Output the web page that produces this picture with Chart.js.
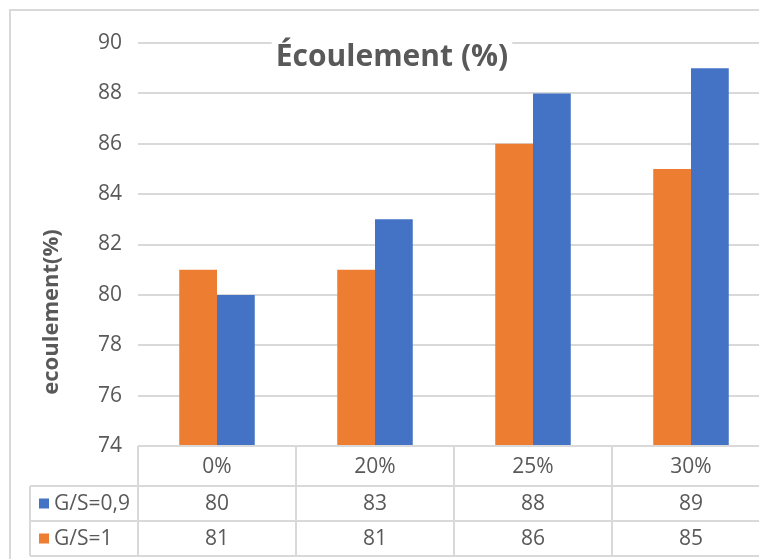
<!DOCTYPE html>
<html>
<head>
<meta charset="utf-8">
<script src="https://cdn.jsdelivr.net/npm/chart.js@4/dist/chart.umd.min.js"></script>
<style>
  html, body { margin: 0; padding: 0; background: #fff; overflow: hidden; }
  #wrap { width: 759px; height: 559px; overflow: hidden; }
</style>
</head>
<body>
<div id="wrap"><canvas id="chart" width="780" height="559"></canvas></div>
<script>
const CATEGORIES = ['0%', '20%', '25%', '30%'];
const SERIES_NAMES = ['G/S=0,9', 'G/S=1'];
const GS_09 = [80, 83, 88, 89];
const GS_1 = [81, 81, 86, 85];
const Y_MIN = 74;
const Y_MAX = 90;
const Y_STEP = 2;

const TITLE = 'Écoulement (%)';
const Y_TITLE = 'ecoulement(%)';

const BLUE = '#4472C4';
const ORANGE = '#ED7D31';
const TEXT = '#595959';
const LINE = '#d9d9d9';
const FONT = '"Open Sans", "Noto Sans", sans-serif';

// light frame around the whole chart, as in the Excel export
const framePlugin = {
  id: 'frame',
  beforeDraw(chart) {
    const ctx = chart.ctx;
    ctx.save();
    ctx.fillStyle = '#fff';
    ctx.fillRect(0, 0, chart.width, chart.height);
    ctx.strokeStyle = LINE;
    ctx.lineWidth = 2;
    ctx.strokeRect(10, 10, chart.width + 20, chart.height + 20);
    ctx.restore();
  },
};

// titles sit over the plot, with a white box behind the main one
const titlesPlugin = {
  id: 'titles',
  afterDraw(chart) {
    const ctx = chart.ctx;
    ctx.save();
    ctx.font = 'bold 30px ' + FONT;
    const w = ctx.measureText(TITLE).width;
    const cx = 392;
    ctx.fillStyle = '#fff';
    ctx.fillRect(cx - w / 2 - 4, 32, w + 8, 44);
    ctx.fillStyle = TEXT;
    ctx.textAlign = 'center';
    ctx.textBaseline = 'alphabetic';
    ctx.fillText(TITLE, cx, 66);

    ctx.translate(52, 312);
    ctx.rotate(-Math.PI / 2);
    ctx.font = 'bold 22px ' + FONT;
    ctx.textBaseline = 'middle';
    ctx.fillText(Y_TITLE, 0, 0);
    ctx.restore();
  },
};

// data table under the plot, columns taken from the x scale
const tablePlugin = {
  id: 'dataTable',
  afterDraw(chart) {
    const ctx = chart.ctx;
    const xs = chart.scales.x;
    const area = chart.chartArea;
    const n = CATEGORIES.length;
    const edges = [area.left];
    for (let i = 1; i < n; i++) {
      edges.push((xs.getPixelForValue(i - 1) + xs.getPixelForValue(i)) / 2);
    }
    edges.push(area.right);
    const rows = [area.bottom, area.bottom + 40, area.bottom + 75, area.bottom + 110];
    const legendLeft = 30;

    ctx.save();
    ctx.strokeStyle = LINE;
    ctx.lineWidth = 2;
    ctx.beginPath();
    ctx.moveTo(area.left, rows[0]);
    ctx.lineTo(area.right, rows[0]);
    for (let r = 1; r < rows.length; r++) {
      ctx.moveTo(legendLeft, rows[r]);
      ctx.lineTo(area.right, rows[r]);
    }
    ctx.moveTo(legendLeft, rows[1]);
    ctx.lineTo(legendLeft, rows[3]);
    edges.forEach((x) => {
      ctx.moveTo(x, rows[0]);
      ctx.lineTo(x, rows[3]);
    });
    ctx.stroke();

    ctx.font = '21px ' + FONT;
    ctx.fillStyle = TEXT;
    ctx.textAlign = 'center';
    ctx.textBaseline = 'middle';
    const tableRows = [GS_09, GS_1];
    CATEGORIES.forEach((cat, i) => {
      const cx = (edges[i] + edges[i + 1]) / 2;
      ctx.fillText(cat, cx, (rows[0] + rows[1]) / 2 + 1);
      tableRows.forEach((vals, r) => {
        ctx.fillText(String(vals[i]), cx, (rows[r + 1] + rows[r + 2]) / 2 + 1);
      });
    });

    const keyColors = [BLUE, ORANGE];
    ctx.textAlign = 'left';
    SERIES_NAMES.forEach((name, r) => {
      const cy = (rows[r + 1] + rows[r + 2]) / 2;
      ctx.fillStyle = keyColors[r];
      ctx.fillRect(39, cy - 5, 10, 10);
      ctx.fillStyle = TEXT;
      ctx.fillText(name, 54, cy + 1);
    });
    ctx.restore();
  },
};

new Chart(document.getElementById('chart'), {
  type: 'bar',
  data: {
    labels: CATEGORIES,
    datasets: [
      {
        label: SERIES_NAMES[1],
        data: GS_1,
        backgroundColor: ORANGE,
        borderWidth: 0,
        categoryPercentage: 0.478,
        barPercentage: 1.0,
      },
      {
        label: SERIES_NAMES[0],
        data: GS_09,
        backgroundColor: BLUE,
        borderWidth: 0,
        categoryPercentage: 0.478,
        barPercentage: 1.0,
      },
    ],
  },
  options: {
    responsive: false,
    animation: false,
    devicePixelRatio: 1,
    layout: {
      padding: { left: 0, top: 43, right: 10, bottom: 113 },
    },
    scales: {
      x: {
        display: false,
      },
      y: {
        min: Y_MIN,
        max: Y_MAX,
        afterFit: (scale) => { scale.width = 138; },
        ticks: {
          stepSize: Y_STEP,
          padding: 16,
          color: TEXT,
          font: { family: FONT, size: 21 },
        },
        grid: {
          color: LINE,
          lineWidth: 2,
          drawTicks: false,
        },
        border: { display: false },
      },
    },
    plugins: {
      legend: { display: false },
      title: { display: false },
      tooltip: { enabled: false },
    },
  },
  plugins: [framePlugin, tablePlugin, titlesPlugin],
});
</script>
</body>
</html>
